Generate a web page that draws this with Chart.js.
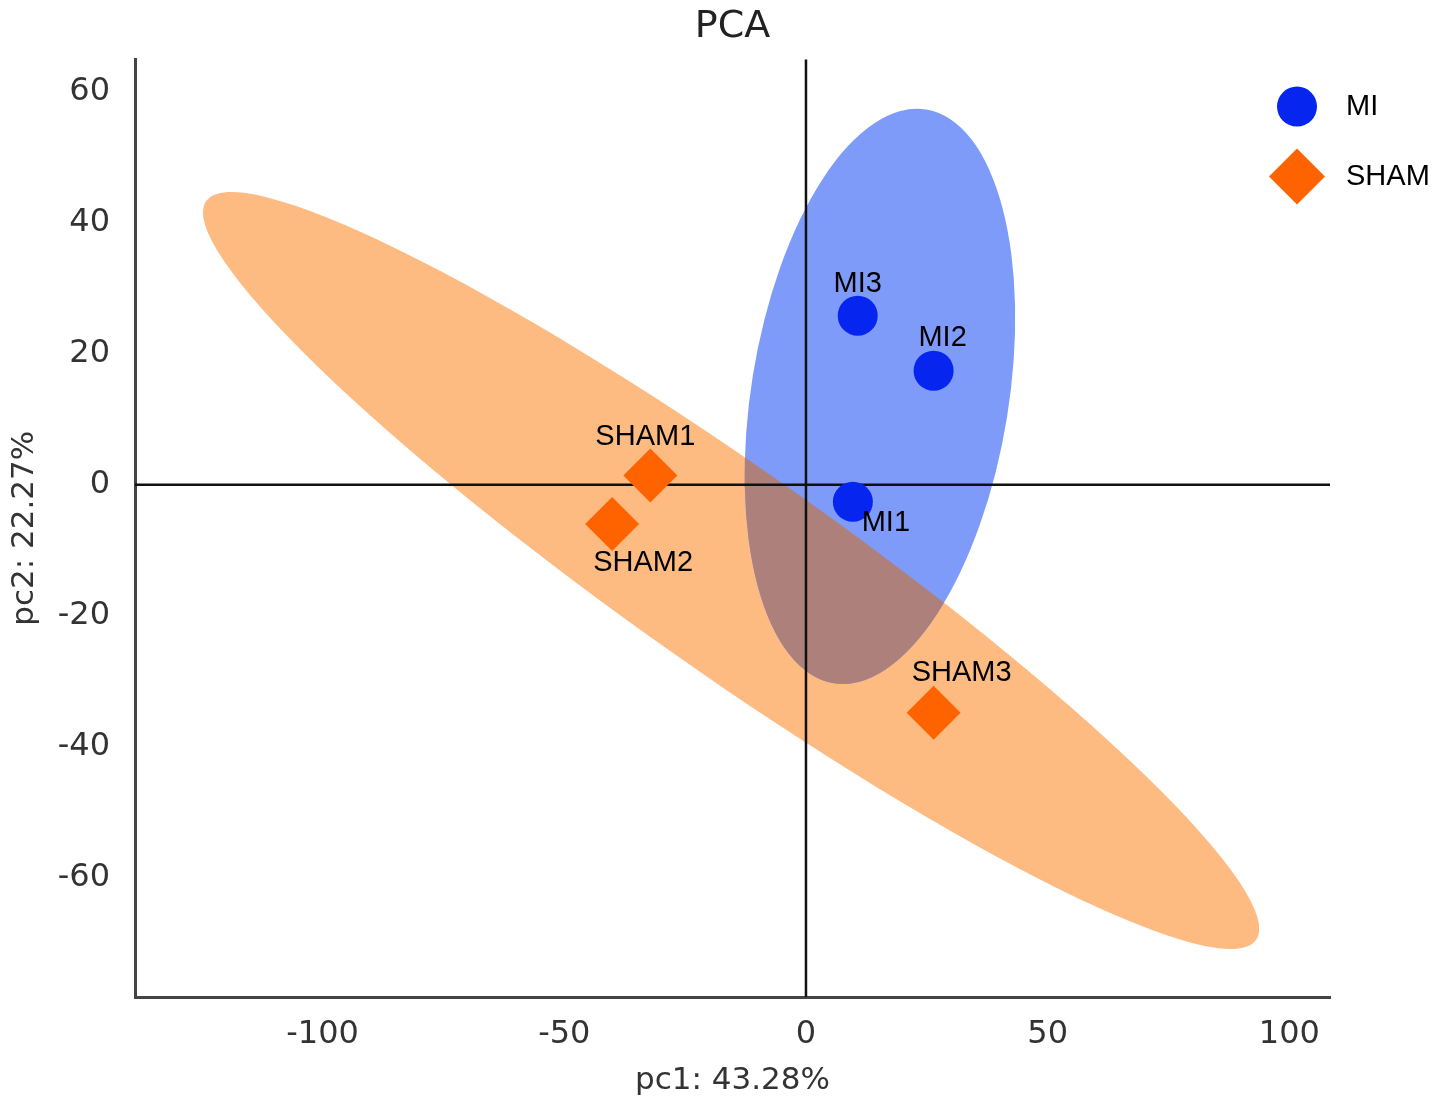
<!DOCTYPE html>
<html>
<head>
<meta charset="utf-8">
<title>PCA</title>
<script src="https://cdn.jsdelivr.net/npm/chart.js@4.4.1/dist/chart.umd.min.js"></script>
<style>
  html, body { margin: 0; padding: 0; background: #fff; }
  #wrap { width: 1441px; height: 1110px; }
</style>
</head>
<body>
<div id="wrap"><canvas id="pca" width="1441" height="1110"></canvas></div>
<script>
// sample scores (pc1, pc2)
const miLabels = ["MI1", "MI2", "MI3"];
const miPc1 = [9.7, 26.4, 10.7];
const miPc2 = [-2.6, 17.4, 25.8];

const shamLabels = ["SHAM1", "SHAM2", "SHAM3"];
const shamPc1 = [-32.2, -40.1, 26.4];
const shamPc2 = [1.4, -6.0, -34.8];

// confidence ellipses: centre + two conjugate semi-axes, in pc units
const miEllipseCenter = [15.3, 13.5];
const miEllipseAxisA = [9.55, 43.8];
const miEllipseAxisB = [26.3, -3.13];
const shamEllipseCenter = [-15.5, -13.1];
const shamEllipseAxisA = [108.6, -56.4];
const shamEllipseAxisB = [-12.0, -12.6];

const xTicks = [-100, -50, 0, 50, 100];
const yTicks = [-60, -40, -20, 0, 20, 40, 60];
const xRange = [-138.8, 108.4];
const yRange = [-78.2, 64.9];

const MI_COLOR = "#0626f0";
const SHAM_COLOR = "#ff6300";
const MI_FILL = "#7f9bf9";
const SHAM_FILL = "#fdbb82";
const OVERLAP_FILL = "#ae807c";

const labelOffsets = {
  MI1: [33, 21], MI2: [9, -33], MI3: [0, -32],
  SHAM1: [-5, -39], SHAM2: [31, 39], SHAM3: [28, -40],
};

function toPoints(xs, ys) {
  return xs.map((x, i) => ({ x: x, y: ys[i] }));
}

function ellipsePath(ctx, xs, ys, c, a, b) {
  const cx = xs.getPixelForValue(c[0]);
  const cy = ys.getPixelForValue(c[1]);
  const ax = xs.getPixelForValue(c[0] + a[0]) - cx;
  const ay = ys.getPixelForValue(c[1] + a[1]) - cy;
  const bx = xs.getPixelForValue(c[0] + b[0]) - cx;
  const by = ys.getPixelForValue(c[1] + b[1]) - cy;
  ctx.save();
  ctx.transform(ax, ay, bx, by, cx, cy);
  ctx.beginPath();
  ctx.arc(0, 0, 1, 0, Math.PI * 2);
  ctx.restore();
}

const backdrop = {
  id: "backdrop",
  beforeDatasetsDraw(chart) {
    const { ctx, chartArea, scales } = chart;
    const xs = scales.x, ys = scales.y;
    ctx.save();
    ellipsePath(ctx, xs, ys, shamEllipseCenter, shamEllipseAxisA, shamEllipseAxisB);
    ctx.fillStyle = SHAM_FILL;
    ctx.fill();
    ellipsePath(ctx, xs, ys, miEllipseCenter, miEllipseAxisA, miEllipseAxisB);
    ctx.fillStyle = MI_FILL;
    ctx.fill();
    ctx.save();
    ellipsePath(ctx, xs, ys, shamEllipseCenter, shamEllipseAxisA, shamEllipseAxisB);
    ctx.clip();
    ellipsePath(ctx, xs, ys, miEllipseCenter, miEllipseAxisA, miEllipseAxisB);
    ctx.fillStyle = OVERLAP_FILL;
    ctx.fill();
    ctx.restore();

    // zero lines
    const x0 = xs.getPixelForValue(0);
    const y0 = ys.getPixelForValue(0);
    ctx.strokeStyle = "#111";
    ctx.lineWidth = 2.5;
    ctx.beginPath();
    ctx.moveTo(x0, chartArea.top);
    ctx.lineTo(x0, chartArea.bottom);
    ctx.moveTo(chartArea.left, y0);
    ctx.lineTo(chartArea.right, y0);
    ctx.stroke();
    ctx.restore();
  },
  afterDatasetsDraw(chart) {
    const { ctx } = chart;
    ctx.save();
    ctx.font = '29px "Liberation Sans", Arial, sans-serif';
    ctx.fillStyle = "#000";
    ctx.textAlign = "center";
    ctx.textBaseline = "middle";
    chart.data.datasets.forEach((ds, di) => {
      chart.getDatasetMeta(di).data.forEach((el, i) => {
        const name = ds.names[i];
        const off = labelOffsets[name] || [0, -32];
        ctx.fillText(name, el.x + off[0], el.y + off[1]);
      });
    });
    ctx.restore();
  },
  afterDraw(chart) {
    const { ctx, chartArea } = chart;
    const mx = chartArea.right - 33;
    let my = chartArea.top + 47;
    ctx.save();
    ctx.font = '29px "Liberation Sans", Arial, sans-serif';
    ctx.textAlign = "left";
    ctx.textBaseline = "middle";
    chart.data.datasets.forEach((ds) => {
      ctx.fillStyle = ds.backgroundColor;
      const opts = { pointStyle: ds.pointStyle, radius: ds.legendRadius, rotation: 0, borderWidth: 0 };
      if (Chart.helpers && Chart.helpers.drawPoint) {
        Chart.helpers.drawPoint(ctx, opts, mx, my);
      }
      ctx.fillStyle = "#000";
      ctx.fillText(ds.label, mx + 49, my);
      my += 70;
    });
    ctx.restore();
  },
};

const tickFont = { family: '"DejaVu Sans", sans-serif', size: 32 };

new Chart(document.getElementById("pca"), {
  type: "scatter",
  data: {
    datasets: [
      {
        label: "MI",
        names: miLabels,
        data: toPoints(miPc1, miPc2),
        pointStyle: "circle",
        pointRadius: 20,
        pointHoverRadius: 20,
        legendRadius: 20,
        backgroundColor: MI_COLOR,
        borderWidth: 0,
      },
      {
        label: "SHAM",
        names: shamLabels,
        data: toPoints(shamPc1, shamPc2),
        pointStyle: "rectRot",
        pointRadius: 27,
        pointHoverRadius: 27,
        legendRadius: 28,
        backgroundColor: SHAM_COLOR,
        borderWidth: 0,
      },
    ],
  },
  options: {
    responsive: false,
    devicePixelRatio: 1,
    animation: false,
    layout: { padding: { left: 0, right: 111, top: 0, bottom: 0 } },
    plugins: {
      legend: { display: false },
      tooltip: { enabled: false },
      title: {
        display: true,
        text: "PCA",
        fullSize: false,
        color: "#222",
        font: { family: '"DejaVu Sans", sans-serif', size: 38, weight: "normal" },
        padding: { top: 4, bottom: 10 },
      },
    },
    scales: {
      x: {
        type: "linear",
        min: xRange[0],
        max: xRange[1],
        afterBuildTicks: (scale) => { scale.ticks = xTicks.map((v) => ({ value: v })); },
        afterFit: (scale) => { scale.height = 113; },
        grid: { display: false, drawTicks: false },
        border: { display: true, color: "#444", width: 3 },
        ticks: { color: "#333", font: tickFont, padding: 18, maxRotation: 0 },
        title: {
          display: true,
          text: "pc1: 43.28%",
          color: "#333",
          font: { family: '"DejaVu Sans", sans-serif', size: 31 },
          padding: { top: 0, bottom: 10 },
        },
      },
      y: {
        type: "linear",
        min: yRange[0],
        max: yRange[1],
        afterBuildTicks: (scale) => { scale.ticks = yTicks.map((v) => ({ value: v })); },
        afterFit: (scale) => { scale.width = 135; },
        grid: { display: false, drawTicks: false },
        border: { display: true, color: "#444", width: 3 },
        ticks: { color: "#333", font: tickFont, padding: 25 },
        title: {
          display: true,
          text: "pc2: 22.27%",
          color: "#333",
          font: { family: '"DejaVu Sans", sans-serif', size: 31 },
          padding: { top: 6, bottom: 0 },
        },
      },
    },
  },
  plugins: [backdrop],
});
</script>
</body>
</html>
